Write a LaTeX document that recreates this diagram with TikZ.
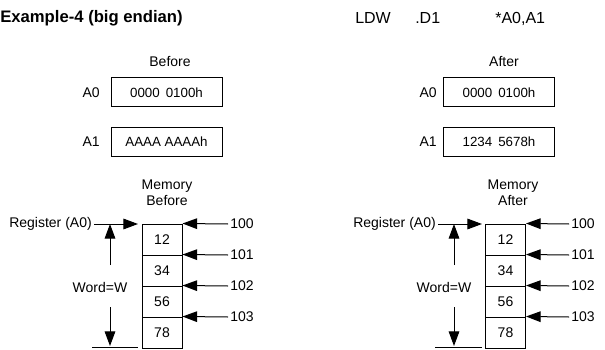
\documentclass[tikz,border=0pt]{standalone}
\usepackage{fontspec}
\setmainfont{Liberation Sans}
\usetikzlibrary{arrows.meta}

\tikzset{
  lbl/.style={inner sep=1.5pt, font=\fontsize{10.5}{12}\selectfont},
  regbox/.style={draw, line width=0.75pt, minimum width=83.25pt, minimum height=21.75pt, inner sep=0pt, font=\fontsize{10}{11}\selectfont},
  memcell/.style={draw, line width=0.75pt, minimum width=30pt, minimum height=23.25pt, inner sep=0pt, font=\fontsize{10.5}{12}\selectfont},
  ptr/.style={line width=0.75pt, -{Triangle[length=11pt,width=8pt]}},
  rule/.style={line width=0.75pt},
}

\begin{document}
\begin{tikzpicture}[x=0.75pt,y=0.75pt,yscale=-1,xscale=1]
\useasboundingbox (0,0) rectangle (605,349);

% Text Node
\node [anchor=base west, inner sep=0pt, font=\fontsize{12.5}{15}\selectfont\bfseries] (title) at (0,23) {Example-4 (big endian)};
% Text Node
\node [anchor=base west, inner sep=0pt, font=\fontsize{12}{14}\selectfont] (opcode) at (355,24) {LDW};
% Text Node
\node [anchor=base west, inner sep=0pt, font=\fontsize{12}{14}\selectfont] (opsize) at (415,24) {.D1};
% Text Node
\node [anchor=base west, inner sep=0pt, font=\fontsize{12}{14}\selectfont] (operands) at (495,24) {*A0,A1};

%%%%% Before %%%%%
% Text Node
\node [lbl] (before) at (170,62) {Before};
%Shape: Rectangle
\node [regbox] (boxA0b) at (166.5,92.5) {0000\hspace{0.45em}0100h};
\node [lbl, anchor=east] (labA0b) at (102,92.5) {A0};
%Shape: Rectangle
\node [regbox] (boxA1b) at (166.5,141.5) {AAAA AAAAh};
\node [lbl, anchor=east] (labA1b) at (102,141.5) {A1};

% Text Node
\node [lbl, align=center] (memtitb) at (167,193) {Memory\\Before};

%Shape: Rectangle
\node [memcell] (memb1) at (162,239.5) {12};
\node [memcell] (memb2) at (162,270.5) {34};
\node [memcell] (memb3) at (162,301.5) {56};
\node [memcell] (memb4) at (162,332.5) {78};

% Text Node
\node [lbl, anchor=west] (adrb100) at (228,224) {100};
\node [lbl, anchor=west] (adrb101) at (228,255) {101};
\node [lbl, anchor=west] (adrb102) at (228,286) {102};
\node [lbl, anchor=west] (adrb103) at (228,317) {103};
%Straight Lines
\draw [ptr] (adrb100.west) -- (memb1.north east);
\draw [ptr] (adrb101.west) -- (memb2.north east);
\draw [ptr] (adrb102.west) -- (memb3.north east);
\draw [ptr] (adrb103.west) -- (memb4.north east);

% Text Node
\node [lbl, anchor=east] (regb) at (94,224) {Register (A0)};
\coordinate (regtipb) at (138,224);
\draw [ptr] (regb.east) -- (regtipb);

% Text Node
\node [lbl] (wordb) at (100,287) {Word=W};
\coordinate (wtopb) at (110,224);
\coordinate (wupb) at (110,265);
\coordinate (wdownb) at (110,307);
\coordinate (wbotb) at (110,346);
\coordinate (baseLb) at (92,347.5);
\coordinate (baseRb) at (138,347.5);
%Straight Lines
\draw [ptr] (wupb) -- (wtopb);
\draw [ptr] (wdownb) -- (wbotb);
\draw [rule] (baseLb) -- (baseRb);

%%%%% After %%%%%
% Text Node
\node [lbl] (after) at (504,62) {After};
%Shape: Rectangle
\node [regbox] (boxA0a) at (499,92.5) {0000\hspace{0.45em}0100h};
\node [lbl, anchor=east] (labA0a) at (439,92.5) {A0};
%Shape: Rectangle
\node [regbox] (boxA1a) at (499,141.5) {1234\hspace{0.45em}5678h};
\node [lbl, anchor=east] (labA1a) at (439,141.5) {A1};

% Text Node
\node [lbl, align=center] (memtita) at (513,193) {Memory\\After};

%Shape: Rectangle
\node [memcell] (mema1) at (505.5,239.5) {12};
\node [memcell] (mema2) at (505.5,270.5) {34};
\node [memcell] (mema3) at (505.5,301.5) {56};
\node [memcell] (mema4) at (505.5,332.5) {78};

% Text Node
\node [lbl, anchor=west] (adra100) at (569,224) {100};
\node [lbl, anchor=west] (adra101) at (569,255) {101};
\node [lbl, anchor=west] (adra102) at (569,286) {102};
\node [lbl, anchor=west] (adra103) at (569,317) {103};
%Straight Lines
\draw [ptr] (adra100.west) -- (mema1.north east);
\draw [ptr] (adra101.west) -- (mema2.north east);
\draw [ptr] (adra102.west) -- (mema3.north east);
\draw [ptr] (adra103.west) -- (mema4.north east);

% Text Node
\node [lbl, anchor=east] (rega) at (438,224) {Register (A0)};
\coordinate (regtipa) at (482,224);
\draw [ptr] (rega.east) -- (regtipa);

% Text Node
\node [lbl] (worda) at (444,287) {Word=W};
\coordinate (wtopa) at (454,224);
\coordinate (wupa) at (454,265);
\coordinate (wdowna) at (454,307);
\coordinate (wbota) at (454,346);
\coordinate (baseLa) at (435,347.5);
\coordinate (baseRa) at (482,347.5);
%Straight Lines
\draw [ptr] (wupa) -- (wtopa);
\draw [ptr] (wdowna) -- (wbota);
\draw [rule] (baseLa) -- (baseRa);

\end{tikzpicture}
\end{document}
